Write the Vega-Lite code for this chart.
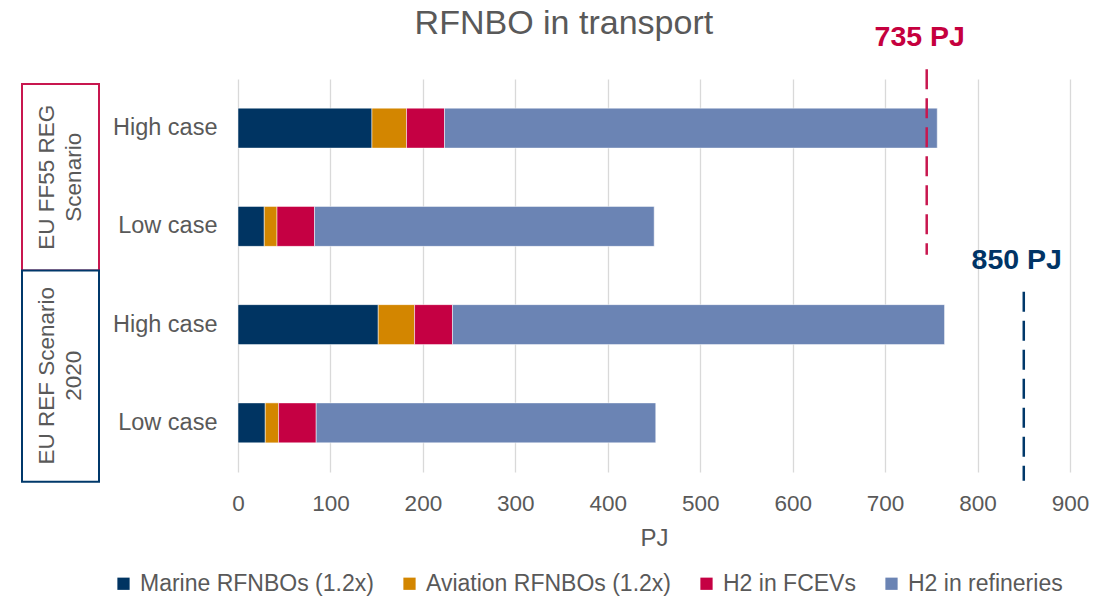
{
  "$schema": "https://vega.github.io/schema/vega-lite/v6.json",
  "background": "white",
  "padding": {"left": 21, "top": 7, "right": 5, "bottom": 5},
  "config": {"view": {"stroke": null}, "font": "Liberation Sans"},
  "title": {"text": "RFNBO in transport", "fontSize": 34, "font": "Liberation Sans", "fontWeight": "normal", "color": "#595959", "anchor": "middle", "offset": -18, "dx": 9},
  "bounds": "flush",
  "spacing": 139,
  "datasets": {
    "bars": [
      {"row": "1 High case", "source": "Marine RFNBOs (1.2x)", "k": 1, "pj": 144.9},
      {"row": "1 High case", "source": "Aviation RFNBOs (1.2x)", "k": 2, "pj": 37.4},
      {"row": "1 High case", "source": "H2 in FCEVs", "k": 3, "pj": 41.1},
      {"row": "1 High case", "source": "H2 in refineries", "k": 4, "pj": 533.0},
      {"row": "2 Low case", "source": "Marine RFNBOs (1.2x)", "k": 1, "pj": 28.4},
      {"row": "2 Low case", "source": "Aviation RFNBOs (1.2x)", "k": 2, "pj": 13.8},
      {"row": "2 Low case", "source": "H2 in FCEVs", "k": 3, "pj": 40.6},
      {"row": "2 Low case", "source": "H2 in refineries", "k": 4, "pj": 367.4},
      {"row": "3 High case", "source": "Marine RFNBOs (1.2x)", "k": 1, "pj": 151.7},
      {"row": "3 High case", "source": "Aviation RFNBOs (1.2x)", "k": 2, "pj": 39.3},
      {"row": "3 High case", "source": "H2 in FCEVs", "k": 3, "pj": 41.0},
      {"row": "3 High case", "source": "H2 in refineries", "k": 4, "pj": 532.3},
      {"row": "4 Low case", "source": "Marine RFNBOs (1.2x)", "k": 1, "pj": 29.5},
      {"row": "4 Low case", "source": "Aviation RFNBOs (1.2x)", "k": 2, "pj": 14.4},
      {"row": "4 Low case", "source": "H2 in FCEVs", "k": 3, "pj": 40.7},
      {"row": "4 Low case", "source": "H2 in refineries", "k": 4, "pj": 367.3}
    ],
    "targets": [
      {"target": "FF55", "label": "735 PJ", "value": 745, "from": -0.1, "to": 1.79},
      {"target": "REF", "label": "850 PJ", "value": 850, "from": 2.165, "to": 4.09}
    ],
    "scenarios": [
      {"scenario": "FF55", "label": "EU FF55 REG\nScenario", "from": 0.05, "to": 1.95, "mid": 1.0},
      {"scenario": "REF", "label": "EU REF Scenario\n2020", "from": 1.95, "to": 4.1, "mid": 3.02}
    ]
  },
  "hconcat": [
    {
      "width": 77,
      "height": 393,
      "data": {"name": "scenarios"},
      "layer": [
        {
          "mark": {"type": "rect", "fill": "white", "strokeWidth": 2},
          "encoding": {
            "x": {"datum": 0, "type": "quantitative", "scale": {"domain": [0, 1], "nice": false}, "axis": null},
            "x2": {"datum": 1},
            "y": {"field": "from", "type": "quantitative", "scale": {"domain": [0, 4], "reverse": true, "nice": false, "zero": false}, "axis": null},
            "y2": {"field": "to"},
            "stroke": {"field": "scenario", "type": "nominal", "scale": {"domain": ["FF55", "REF"], "range": ["#C8174F", "#00386A"]}, "legend": null}
          }
        },
        {
          "mark": {"type": "text", "angle": 270, "lineBreak": "\n", "fontSize": 22.5, "lineHeight": 27, "color": "#595959", "align": "center", "baseline": "middle", "dy": -13.5, "font": "Liberation Sans"},
          "encoding": {
            "x": {"datum": 0.5, "type": "quantitative"},
            "y": {"field": "mid", "type": "quantitative"},
            "text": {"field": "label"}
          }
        }
      ]
    },
    {
      "width": 832,
      "height": 393,
      "layer": [
        {
          "data": {"name": "bars"},
          "mark": {"type": "bar", "stroke": "white", "strokeWidth": 0.5},
          "encoding": {
            "y": {
              "field": "row", "type": "nominal",
              "scale": {"domain": ["1 High case", "2 Low case", "3 High case", "4 Low case"], "paddingInner": 0.593, "paddingOuter": 0.2965},
              "axis": {"title": null, "labelExpr": "substring(datum.label, 2)", "ticks": false, "tickSize": 0, "domain": false, "labelFontSize": 23.5, "labelColor": "#595959", "labelPadding": 21, "labelFont": "Liberation Sans"}
            },
            "x": {
              "field": "pj", "type": "quantitative", "stack": "zero",
              "scale": {"domain": [0, 900], "nice": false},
              "axis": {"values": [0, 100, 200, 300, 400, 500, 600, 700, 800, 900], "title": "PJ", "grid": true, "gridColor": "#D9D9D9", "gridWidth": 1.3, "domain": false, "ticks": false, "tickSize": 0, "labelFlush": false, "labelPadding": 20, "labelFontSize": 22.5, "labelColor": "#595959", "labelFont": "Liberation Sans", "titleFont": "Liberation Sans", "titleFontSize": 24, "titleFontWeight": "normal", "titleColor": "#595959", "titlePadding": 12}
            },
            "color": {
              "field": "source", "type": "nominal",
              "scale": {"domain": ["Marine RFNBOs (1.2x)", "Aviation RFNBOs (1.2x)", "H2 in FCEVs", "H2 in refineries"], "range": ["#003462", "#D38600", "#C50043", "#6B84B4"]},
              "legend": {"orient": "none", "legendX": 90, "legendY": 493, "direction": "horizontal", "title": null, "symbolType": "square", "symbolSize": 150, "symbolStrokeWidth": 0, "labelFontSize": 23, "labelColor": "#595959", "labelFont": "Liberation Sans", "labelLimit": 0, "columnPadding": 24, "labelOffset": 5}
            },
            "order": {"field": "k", "type": "quantitative"}
          }
        },
        {
          "data": {"name": "targets"},
          "mark": {"type": "rule", "strokeWidth": 2.5, "strokeDash": [20, 9]},
          "encoding": {
            "x": {"field": "value", "type": "quantitative"},
            "y": {"field": "from", "type": "quantitative", "scale": {"domain": [0, 4], "reverse": true, "nice": false, "zero": false}, "axis": null},
            "y2": {"field": "to"},
            "stroke": {"field": "target", "type": "nominal", "scale": {"domain": ["FF55", "REF"], "range": ["#C5003E", "#003466"]}, "legend": null}
          }
        },
        {
          "data": {"name": "targets"},
          "mark": {"type": "text", "fontSize": 28.5, "fontWeight": "bold", "dx": -7, "dy": -23, "baseline": "alphabetic", "align": "center", "font": "Liberation Sans"},
          "encoding": {
            "x": {"field": "value", "type": "quantitative"},
            "y": {"field": "from", "type": "quantitative", "scale": {"domain": [0, 4], "reverse": true, "nice": false, "zero": false}, "axis": null},
            "text": {"field": "label"},
            "fill": {"field": "target", "type": "nominal", "scale": {"domain": ["FF55", "REF"], "range": ["#C5003E", "#003466"]}, "legend": null}
          }
        }
      ],
      "resolve": {"scale": {"y": "independent"}}
    }
  ]
}
